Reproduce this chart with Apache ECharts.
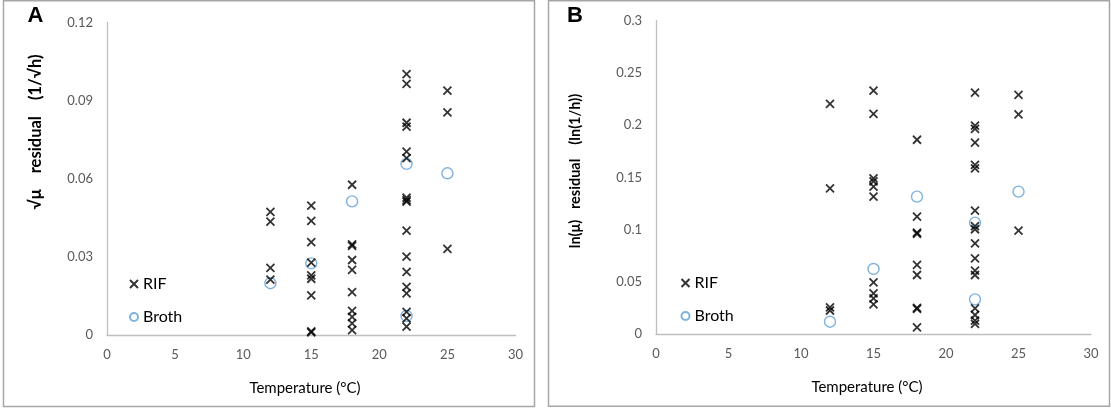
<!DOCTYPE html>
<html>
<head>
<meta charset="utf-8">
<script src="https://cdn.jsdelivr.net/npm/echarts@6/dist/echarts.min.js"></script>
<style>
  html, body { margin: 0; padding: 0; background: #fff; }
  #chart { width: 1111px; height: 408px; }
</style>
</head>
<body>
<div id="chart"></div>
<script>
// 数据
var tempTicks = [0, 5, 10, 15, 20, 25, 30];
var ticksA = [0, 0.03, 0.06, 0.09, 0.12];
var ticksB = [0, 0.05, 0.1, 0.15, 0.2, 0.25, 0.3];

// A: sqrt(mu) residual
var rifA = [
  [12, 0.0473], [12, 0.0435], [12, 0.0258], [12, 0.0213],
  [15, 0.0497], [15, 0.0438], [15, 0.0357], [15, 0.0278], [15, 0.0229], [15, 0.0216], [15, 0.0152], [15, 0.0014], [15, 0.0010],
  [18, 0.0577], [18, 0.0348], [18, 0.0342], [18, 0.0288], [18, 0.0250], [18, 0.0165], [18, 0.0093], [18, 0.0070], [18, 0.0045], [18, 0.0019],
  [22, 0.1002], [22, 0.0964], [22, 0.0815], [22, 0.0800], [22, 0.0704], [22, 0.0679], [22, 0.0527], [22, 0.0518], [22, 0.0512],
  [22, 0.0401], [22, 0.0301], [22, 0.0242], [22, 0.0185], [22, 0.0160], [22, 0.0089], [22, 0.0064], [22, 0.0032],
  [25, 0.0938], [25, 0.0855], [25, 0.0331]
];
var brothA = [[12, 0.0199], [15, 0.0275], [18, 0.0513], [22, 0.0657], [22, 0.0073], [25, 0.0621]];

// B: ln(mu) residual
var rifB = [
  [12, 0.2203], [12, 0.1395], [12, 0.0255], [12, 0.0225],
  [15, 0.2331], [15, 0.2107], [15, 0.1491], [15, 0.1462], [15, 0.1411], [15, 0.1315], [15, 0.0495], [15, 0.0390], [15, 0.0342], [15, 0.0284],
  [18, 0.1860], [18, 0.1124], [18, 0.0970], [18, 0.0960], [18, 0.0661], [18, 0.0565], [18, 0.0250], [18, 0.0240], [18, 0.0064],
  [22, 0.2312], [22, 0.1995], [22, 0.1965], [22, 0.1833], [22, 0.1619], [22, 0.1587], [22, 0.1181], [22, 0.1034], [22, 0.1003],
  [22, 0.0868], [22, 0.0725], [22, 0.0606], [22, 0.0565], [22, 0.0246], [22, 0.0182], [22, 0.0127], [22, 0.0096],
  [25, 0.2289], [25, 0.2104], [25, 0.0990]
];
var brothB = [[12, 0.0118], [15, 0.0623], [18, 0.1315], [22, 0.1066], [22, 0.0332], [25, 0.1363]];

var crossPath = 'path://M0,0L10,10M10,0L0,10';
var blue = '#5f9fd3';
var font = 'Lato, "Open Sans", sans-serif';

function xAx(gi) {
  return {
    type: 'value', gridIndex: gi,
    min: tempTicks[0], max: tempTicks[tempTicks.length - 1], interval: tempTicks[1] - tempTicks[0],
    axisLine: { lineStyle: { color: '#bfbfbf', width: 1.3 } },
    axisTick: { show: false },
    splitLine: { show: false },
    axisLabel: { color: '#595959', fontSize: 13, fontFamily: font, margin: 13 }
  };
}
function yAx(gi, ticks) {
  return {
    type: 'value', gridIndex: gi,
    min: ticks[0], max: ticks[ticks.length - 1], interval: ticks[1] - ticks[0],
    axisLine: { show: true, lineStyle: { color: '#bfbfbf', width: 1.3 } },
    axisTick: { show: false },
    splitLine: { show: false },
    axisLabel: {
      color: '#595959', fontSize: 13, fontFamily: font, margin: 14,
      formatter: function (v) { return String(+v.toFixed(2)); }
    }
  };
}
function rifSeries(i, data) {
  return {
    name: 'RIF', type: 'scatter', xAxisIndex: i, yAxisIndex: i,
    symbol: crossPath, symbolSize: 8, data: data, z: 3,
    itemStyle: { color: 'rgba(0,0,0,0)', borderColor: '#000', borderWidth: 1.8 }
  };
}
function brothSeries(i, data) {
  return {
    name: 'Broth', type: 'scatter', xAxisIndex: i, yAxisIndex: i,
    symbol: 'circle', symbolSize: 11, data: data, z: 2,
    itemStyle: { color: 'rgba(0,0,0,0)', borderColor: blue, borderWidth: 1.4 }
  };
}
function legendAt(left, top) {
  return {
    orient: 'vertical', left: left, top: top, itemGap: 17, padding: 0,
    itemWidth: 8, itemHeight: 9,
    textStyle: { color: '#000', fontSize: 16, fontFamily: font },
    data: [{ name: 'RIF', icon: crossPath }, { name: 'Broth', icon: 'circle' }],
    selectedMode: false
  };
}

var myChart = echarts.init(document.getElementById('chart'), null, { renderer: 'canvas' });
var option = {
  animation: false,
  backgroundColor: '#fff',
  grid: [
    { left: 107, top: 22.5, width: 408.5, height: 312.5 },
    { left: 656, top: 20.7, width: 435, height: 313.3 }
  ],
  xAxis: [xAx(0), xAx(1)],
  yAxis: [yAx(0, ticksA), yAx(1, ticksB)],
  legend: [legendAt(129, 276), legendAt(680.5, 275)],
  series: [brothSeries(0, brothA), rifSeries(0, rifA), brothSeries(1, brothB), rifSeries(1, rifB)],
  graphic: [
    // 边框
    { type: 'rect', shape: { x: 3.5, y: 0.8, width: 531, height: 405.7 }, style: { fill: 'none', stroke: '#a6a6a6', lineWidth: 1.5 }, silent: true },
    { type: 'rect', shape: { x: 548.5, y: 0.8, width: 561, height: 405.5 }, style: { fill: 'none', stroke: '#a6a6a6', lineWidth: 1.5 }, silent: true },
    // 面板标签
    { type: 'text', x: 35.5, y: 16, style: { text: 'A', fill: '#000', font: 'bold 22px "Liberation Sans", Arial, sans-serif', align: 'center', verticalAlign: 'middle' } },
    { type: 'text', x: 575, y: 15.5, style: { text: 'B', fill: '#000', font: 'bold 22px "Liberation Sans", Arial, sans-serif', align: 'center', verticalAlign: 'middle' } },
    // 轴标题
    { type: 'text', x: 36, y: 132, rotation: Math.PI / 2, style: { text: '√μ    residual    (1/√h)', fill: '#000', font: 'bold 16.5px ' + font, align: 'center', verticalAlign: 'middle' } },
    { type: 'text', x: 575, y: 171, rotation: Math.PI / 2, style: { text: 'ln(μ)   residual    (ln(1/h))', fill: '#000', font: 'bold 14.5px ' + font, align: 'center', verticalAlign: 'middle' } },
    { type: 'text', x: 305, y: 388, style: { text: 'Temperature (°C)', fill: '#000', font: '15px ' + font, align: 'center', verticalAlign: 'middle' } },
    { type: 'text', x: 867, y: 387, style: { text: 'Temperature (°C)', fill: '#000', font: '15px ' + font, align: 'center', verticalAlign: 'middle' } }
  ]
};
myChart.setOption(option);
</script>
</body>
</html>
